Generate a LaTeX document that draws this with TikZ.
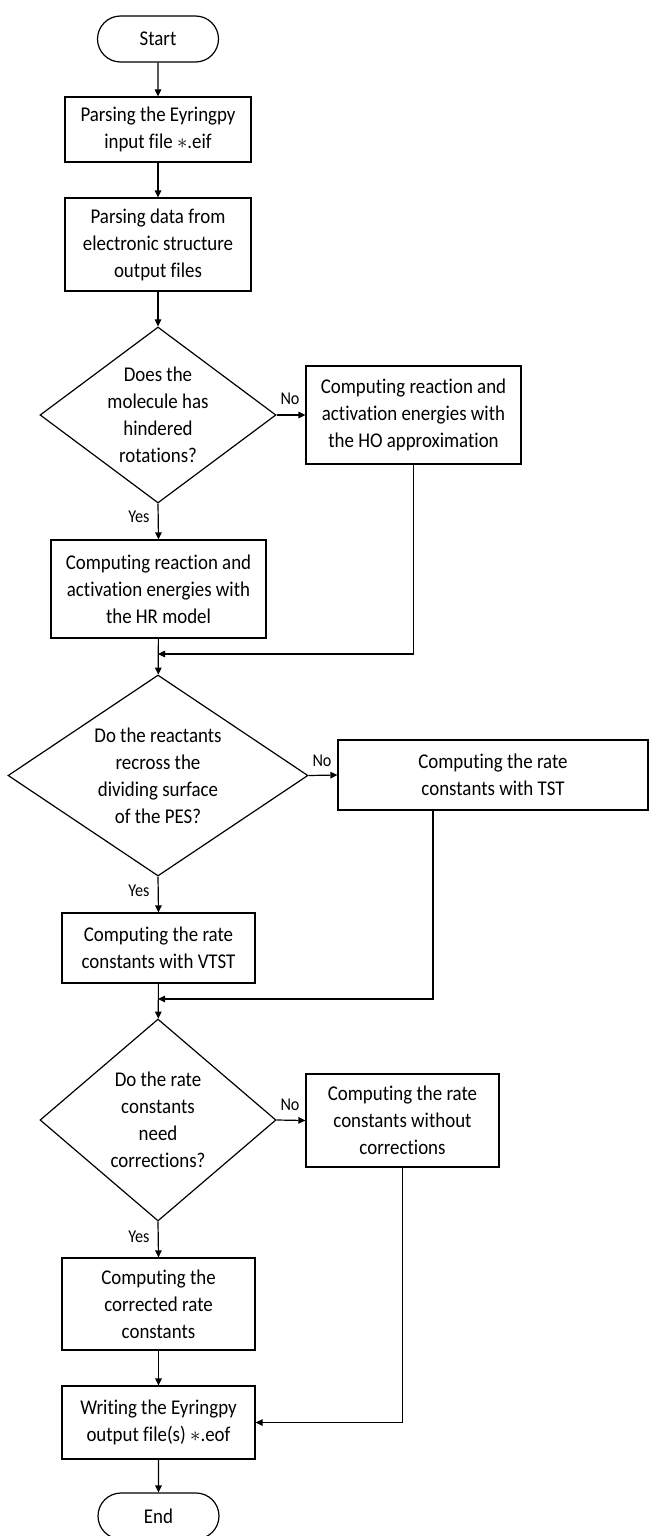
\documentclass[tikz,border=0pt]{standalone}
\usepackage{fontspec}
\setmainfont[FakeStretch=0.9,Ligatures={NoCommon}]{Carlito}
\usetikzlibrary{shapes.geometric,shapes.misc,arrows.meta}
\begin{document}
\begin{tikzpicture}[x=1pt,y=-1pt,
  every node/.style={font=\fontsize{21}{27}\selectfont},
  proc/.style={draw,line width=1.2pt,align=center,inner sep=0pt},
  term/.style={draw,line width=1.2pt,rounded rectangle,inner sep=0pt,minimum width=121pt,minimum height=46pt},
  dec/.style={draw,line width=1.2pt,diamond,inner sep=0pt},
  dtext/.style={align=center,inner sep=0pt},
  lab/.style={font=\fontsize{18}{20}\selectfont,inner sep=0pt},
  arr/.style={line width=1.2pt,-{Triangle[length=7pt,width=6.5pt]}}]
\useasboundingbox (0,0) rectangle (650,1536);
\node[term] (start) at (158,39) {Start};
\node[proc,minimum width=186pt,minimum height=65pt] (b1) at (158,129.5) {Parsing the Eyringpy\\input file $\ast$.eif};
\node[proc,minimum width=186pt,minimum height=93pt] (b2) at (158,244.5) {Parsing data from\\electronic structure\\output files};
\node[dec,minimum width=236pt,minimum height=176pt] (d1) at (158,415) {};
\node[dtext] (d1t) at (d1) {Does the\\molecule has\\hindered\\rotations?};
\node[proc,minimum width=215pt,minimum height=98pt] (ho) at (413.5,415) {Computing reaction and\\activation energies with\\the HO approximation};
\node[proc,minimum width=215pt,minimum height=98pt] (hr) at (158.5,589) {Computing reaction and\\activation energies with\\the HR model};
\node[dec,minimum width=300pt,minimum height=201pt] (d2) at (158,775.5) {};
\node[dtext] (d2t) at (d2) {Do the reactants\\recross the\\dividing surface\\of the PES?};
\node[proc,minimum width=310pt,minimum height=70pt] (tst) at (493,775) {Computing the rate\\constants with TST};
\node[proc,minimum width=193pt,minimum height=70pt] (vtst) at (158.5,948) {Computing the rate\\constants with VTST};
\node[dec,minimum width=236pt,minimum height=202pt] (d3) at (158,1120) {};
\node[dtext] (d3t) at (d3) {Do the rate\\constants\\need\\corrections?};
\node[proc,minimum width=193pt,minimum height=93pt] (wo) at (402.5,1120.5) {Computing the rate\\constants without\\corrections};
\node[proc,minimum width=193pt,minimum height=92pt] (corr) at (158.5,1304) {Computing the\\corrected rate\\constants};
\node[proc,minimum width=193pt,minimum height=73pt] (wr) at (158.5,1422.5) {Writing the Eyringpy\\output file(s) $\ast$.eof};
\node[term] (end) at (158.5,1516) {End};
\coordinate (j1) at (158,654);
\coordinate (j2) at (158,999);
\draw[arr] (start) -- (b1);
\draw[arr] (b1) -- (b2);
\draw[arr] (b2) -- (d1);
\draw[arr] (d1.east) -- (ho.west);
\draw[arr] (d1.south) -- (hr.north);
\draw[arr] (hr) -- (d2);
\draw[arr] (ho.south) |- (j1);
\draw[arr] (d2.east) -- (tst.west);
\draw[arr] (d2.south) -- (vtst.north);
\draw[arr] (vtst) -- (d3);
\draw[arr] (tst.south -| 433,0) |- (j2);
\draw[arr] (d3.east) -- (wo.west);
\draw[arr] (d3.south) -- (corr.north);
\draw[arr] (corr) -- (wr);
\draw[arr] (wo.south) |- (wr.east);
\draw[arr] (wr) -- (end);
\node[lab] (n1) at (290,399) {No};
\node[lab] (y1) at (139,517) {Yes};
\node[lab] (n2) at (322,761) {No};
\node[lab] (y2) at (139,891) {Yes};
\node[lab] (n3) at (290,1105) {No};
\node[lab] (y3) at (139,1237) {Yes};
\end{tikzpicture}
\end{document}
